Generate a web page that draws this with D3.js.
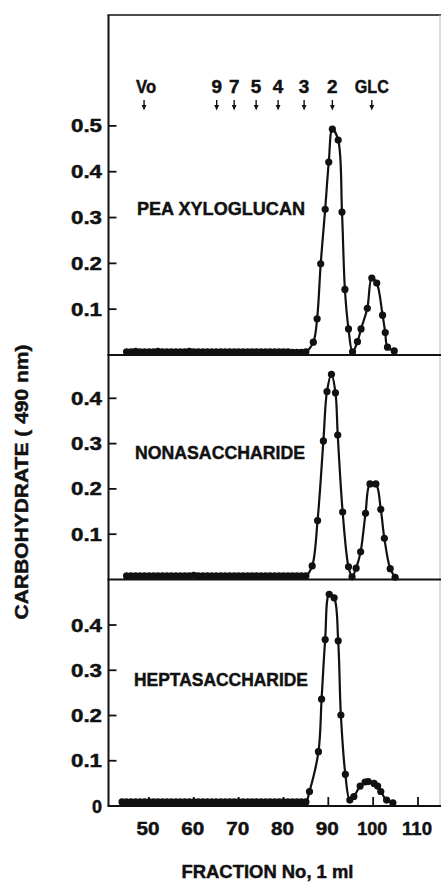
<!DOCTYPE html>
<html><head><meta charset="utf-8">
<script src="https://cdn.jsdelivr.net/npm/d3@7"></script>
<style>
html,body{margin:0;padding:0;background:#fff;}
svg{display:block;}
text{font-family:"Liberation Sans",Arial,Helvetica,sans-serif;font-weight:bold;fill:#111;stroke:#111;stroke-width:0.45px;}
</style></head>
<body>
<script>
// ---------- DATA ----------
const panelNames = ["PEA XYLOGLUCAN", "NONASACCHARIDE", "HEPTASACCHARIDE"];

const markerLabels = ["Vo", "9", "7", "5", "4", "3", "2", "GLC"];
const markerFractions = [48.9, 65.1, 69.0, 73.9, 78.8, 84.6, 90.9, 99.7];

const xTicks = [50, 60, 70, 80, 90, 100, 110];
const yTicksTop = [0.1, 0.2, 0.3, 0.4, 0.5];
const yTicksMid = [0.1, 0.2, 0.3, 0.4];
const yTicksBot = [0, 0.1, 0.2, 0.3, 0.4];

// baseline (void region) fractions and readings
const baseFractions = [45,46,47,48,49,50,51,52,53,54,55,56,57,58,59,60,61,62,63,64,65,66,67,68,69,70,71,72,73,74,75,76,77,78,79,80,81,82,83,84,85];
const baseTop = [0.007,0.007,0.008,0.007,0.007,0.007,0.007,0.008,0.007,0.007,0.007,0.007,0.007,0.007,0.008,0.007,0.007,0.007,0.007,0.007,0.007,0.007,0.007,0.007,0.007,0.007,0.007,0.007,0.007,0.007,0.007,0.007,0.007,0.007,0.007,0.007,0.007,0.006,0.006,0.006,0.007];
const baseMid = [0.008,0.008,0.008,0.008,0.008,0.008,0.008,0.008,0.008,0.008,0.008,0.008,0.008,0.008,0.008,0.009,0.008,0.008,0.008,0.008,0.008,0.008,0.008,0.008,0.008,0.008,0.008,0.008,0.008,0.008,0.008,0.008,0.008,0.008,0.008,0.008,0.008,0.008,0.008,0.008,0.008];
const baseBotFractions = [44,45,46,47,48,49,50,51,52,53,54,55,56,57,58,59,60,61,62,63,64,65,66,67,68,69,70,71,72,73,74,75,76,77,78,79,80,81,82,83,84,85];
const baseBot = [0.009,0.009,0.009,0.009,0.009,0.009,0.009,0.009,0.009,0.009,0.009,0.009,0.009,0.009,0.009,0.009,0.009,0.009,0.009,0.009,0.009,0.009,0.009,0.009,0.009,0.009,0.009,0.009,0.009,0.009,0.009,0.009,0.009,0.009,0.009,0.009,0.009,0.009,0.009,0.009,0.009,0.009];

// peak regions
const peakTopFractions = [86.65,87.5,88.3,89.3,90.1,90.9,92.2,93.05,93.7,94.5,95.4,96.5,97.3,98.7,99.7,100.8,102.1,102.7,103.2,104.7];
const peakTopValues    = [0.028,0.079,0.199,0.318,0.421,0.493,0.469,0.312,0.143,0.057,0.007,0.029,0.057,0.102,0.168,0.157,0.087,0.049,0.017,0.009];

const peakMidFractions = [86.4,87.6,88.9,89.7,90.7,91.6,92.1,93.2,94.5,95.3,96.2,97.2,98.3,99.3,100.6,101.7,102.5,103.8,104.9];
const peakMidValues    = [0.030,0.130,0.306,0.415,0.453,0.412,0.319,0.149,0.028,0.006,0.025,0.061,0.146,0.211,0.211,0.155,0.091,0.024,0.005];

const peakBotFractions = [85.8,87.8,88.5,89.3,90.2,91.3,92.2,92.8,93.8,94.8,95.7,97.1,98.2,98.9,100.2,101.0,101.7,103.0,104.4];
const peakBotValues    = [0.032,0.120,0.236,0.368,0.468,0.460,0.365,0.201,0.070,0.013,0.021,0.044,0.053,0.054,0.050,0.044,0.032,0.013,0.007];

// ---------- LAYOUT ----------
const W = 441, H = 882;
const left = 108.5, right = 440;
const svg = d3.select("body").append("svg").attr("width", W).attr("height", H);

const x = d3.scaleLinear().domain([40.97, 114.91]).range([left, right]);

const panels = [
  {name: panelNames[0], y: d3.scaleLinear().domain([0, 0.742]).range([355, 15]), ticks: yTicksTop,
   fx: baseFractions.concat(peakTopFractions), v: baseTop.concat(peakTopValues), labelY: 215, labelX: 137, labelW: 168},
  {name: panelNames[1], y: d3.scaleLinear().domain([0, 0.4956]).range([579.5, 355]), ticks: yTicksMid,
   fx: baseFractions.concat(peakMidFractions), v: baseMid.concat(peakMidValues), labelY: 459, labelX: 135, labelW: 170},
  {name: panelNames[2], y: d3.scaleLinear().domain([0, 0.5006]).range([806, 579.5]), ticks: yTicksBot,
   fx: baseBotFractions.concat(peakBotFractions), v: baseBot.concat(peakBotValues), labelY: 686, labelX: 134, labelW: 174}
];

// frame
svg.append("line").attr("x1", left).attr("x2", left).attr("y1", 15).attr("y2", 806)
  .attr("stroke", "#111").attr("stroke-width", 2);
svg.append("line").attr("x1", left - 1).attr("x2", W).attr("y1", 15).attr("y2", 15)
  .attr("stroke", "#111").attr("stroke-width", 1.6);
svg.append("line").attr("x1", right).attr("x2", right).attr("y1", 15).attr("y2", 806)
  .attr("stroke", "#bbb").attr("stroke-width", 1);

const line = d3.line().curve(d3.curveCatmullRom.alpha(0.5));

panels.forEach((p, i) => {
  const y = p.y;
  svg.append("line").attr("x1", left - 1).attr("x2", W).attr("y1", y(0)).attr("y2", y(0))
    .attr("stroke", "#111").attr("stroke-width", 2);
  const g = svg.append("g");
  p.ticks.forEach(t => {
    if (t > 0) {
      g.append("line").attr("x1", left).attr("x2", left + 8).attr("y1", y(t)).attr("y2", y(t))
        .attr("stroke", "#111").attr("stroke-width", 1.8);
    }
    const lbl = t === 0 ? "0" : d3.format(".1f")(t);
    g.append("text").attr("x", 102).attr("y", y(t) + 6.5).attr("text-anchor", "end")
      .attr("font-size", 17.5)
      .attr("textLength", t === 0 ? 10 : 31).attr("lengthAdjust", "spacingAndGlyphs")
      .text(lbl);
  });
  svg.append("text").attr("x", p.labelX).attr("y", p.labelY).attr("font-size", 18.5)
    .attr("textLength", p.labelW).attr("lengthAdjust", "spacingAndGlyphs").text(p.name);
  const pts = p.fx.map((f, k) => [f, p.v[k]]).sort((a, b) => a[0] - b[0]);
  svg.append("path").attr("d", line(pts.map(d => [x(d[0]), y(d[1])])))
    .attr("fill", "none").attr("stroke", "#111").attr("stroke-width", 2.2);
  svg.append("g").selectAll("circle").data(pts).join("circle")
    .attr("cx", d => x(d[0])).attr("cy", d => y(d[1])).attr("r", 3.6).attr("fill", "#111");
});

// x axis ticks (bottom panel)
const yb = panels[2].y;
xTicks.forEach(t => {
  svg.append("line").attr("x1", x(t)).attr("x2", x(t)).attr("y1", yb(0)).attr("y2", yb(0) - 9)
    .attr("stroke", "#111").attr("stroke-width", 1.8);
  svg.append("text").attr("x", x(t) - 1).attr("y", 835).attr("text-anchor", "middle")
    .attr("font-size", 17.5).attr("textLength", t >= 100 ? 30 : 23).attr("lengthAdjust", "spacingAndGlyphs")
    .text(t);
});

// markers
markerLabels.forEach((m, i) => {
  const mx = x(markerFractions[i]);
  const w = m.length === 1 ? 10.5 : (m === "Vo" ? 20 : 34);
  svg.append("text").attr("x", mx + (m === "Vo" ? 2 : 0)).attr("y", 93).attr("text-anchor", "middle")
    .attr("font-size", 18).attr("textLength", w).attr("lengthAdjust", "spacingAndGlyphs").text(m);
  svg.append("line").attr("x1", mx).attr("x2", mx).attr("y1", 100).attr("y2", 108)
    .attr("stroke", "#111").attr("stroke-width", 1.4);
  svg.append("path").attr("d", `M${mx - 2.4},${105} L${mx + 2.4},${105} L${mx},${110.5} Z`).attr("fill", "#111");
});

// axis titles
svg.append("text").attr("transform", "translate(27.5,482) rotate(-90)").attr("text-anchor", "middle")
  .attr("font-size", 17.5).attr("textLength", 275).attr("lengthAdjust", "spacingAndGlyphs")
  .text("CARBOHYDRATE ( 490 nm)");
svg.append("text").attr("x", 267.5).attr("y", 878).attr("text-anchor", "middle")
  .attr("font-size", 17.5).attr("textLength", 172).attr("lengthAdjust", "spacingAndGlyphs")
  .text("FRACTION No, 1 ml");
</script>
</body></html>
